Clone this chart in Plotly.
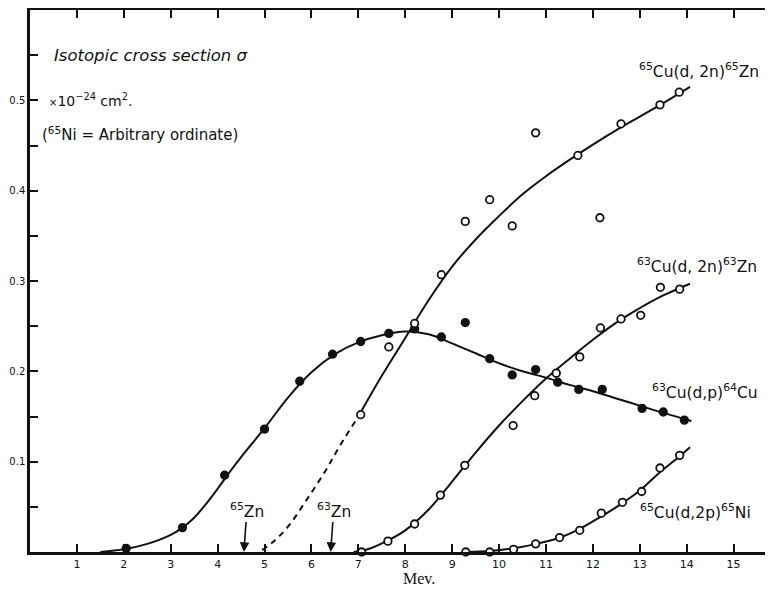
import plotly.graph_objects as go

# ---------------- data ----------------
# 63Cu(d,p)64Cu  (filled circles)
dp_x = [2.05, 3.25, 4.15, 5.0, 5.75, 6.45, 7.05, 7.65, 8.2, 8.77, 9.28, 9.8, 10.28, 10.78, 11.25, 11.7, 12.2, 13.05, 13.5, 13.95]
dp_y = [0.004, 0.027, 0.085, 0.136, 0.189, 0.219, 0.233, 0.242, 0.247, 0.238, 0.254, 0.214, 0.196, 0.202, 0.188, 0.18, 0.18, 0.159, 0.155, 0.146]
dp_curve_x = [1.5, 2.0, 2.5, 3.0, 3.25, 3.5, 3.75, 4.0, 4.25, 4.5, 5.0, 5.5, 6.0, 6.5, 7.0, 7.5, 8.0, 8.5, 9.0, 9.5, 10.0, 10.5, 11.0, 11.5, 12.0, 12.5, 13.0, 13.5, 14.1]
dp_curve_y = [0.0, 0.003, 0.009, 0.019, 0.027, 0.038, 0.053, 0.070, 0.088, 0.105, 0.137, 0.171, 0.199, 0.219, 0.232, 0.240, 0.244, 0.241, 0.231, 0.220, 0.209, 0.200, 0.193, 0.185, 0.178, 0.170, 0.162, 0.154, 0.145]

# 65Cu(d,2n)65Zn  (open circles)
zn65_x = [7.05, 7.65, 8.2, 8.77, 9.28, 9.8, 10.28, 10.78, 11.68, 12.15, 12.6, 13.43, 13.84]
zn65_y = [0.152, 0.227, 0.253, 0.307, 0.366, 0.39, 0.361, 0.464, 0.439, 0.37, 0.474, 0.495, 0.509]
zn65_dash_x = [4.95, 5.2, 5.5, 5.9, 6.3, 6.6, 7.0]
zn65_dash_y = [0.002, 0.012, 0.028, 0.058, 0.090, 0.117, 0.150]
zn65_curve_x = [7.0, 7.5, 8.0, 8.5, 9.0, 9.5, 10.0, 10.5, 11.0, 11.5, 12.0, 12.5, 13.0, 13.5, 14.07]
zn65_curve_y = [0.150, 0.195, 0.237, 0.279, 0.316, 0.346, 0.372, 0.396, 0.416, 0.434, 0.451, 0.467, 0.482, 0.497, 0.515]

# 63Cu(d,2n)63Zn  (open circles)
zn63_x = [7.07, 7.63, 8.2, 8.75, 9.27, 10.3, 10.76, 11.22, 11.72, 12.16, 12.6, 13.02, 13.44, 13.85]
zn63_y = [0.0, 0.012, 0.031, 0.063, 0.096, 0.140, 0.173, 0.198, 0.216, 0.248, 0.258, 0.262, 0.293, 0.291]
zn63_curve_x = [6.9, 7.2, 7.6, 8.0, 8.5, 9.0, 9.5, 10.0, 10.5, 11.0, 11.5, 12.0, 12.5, 13.0, 13.5, 14.07]
zn63_curve_y = [0.0, 0.003, 0.012, 0.024, 0.047, 0.078, 0.110, 0.140, 0.167, 0.192, 0.214, 0.235, 0.254, 0.270, 0.284, 0.297]

# 65Cu(d,2p)65Ni  (open circles, arbitrary ordinate)
ni65_x = [9.29, 9.8, 10.31, 10.78, 11.29, 11.72, 12.18, 12.63, 13.04, 13.43, 13.85]
ni65_y = [0.0, 0.0, 0.003, 0.009, 0.016, 0.024, 0.043, 0.055, 0.067, 0.093, 0.107]
ni65_curve_x = [9.3, 9.8, 10.3, 10.8, 11.3, 11.7, 12.2, 12.6, 13.0, 13.4, 13.85, 14.07]
ni65_curve_y = [0.0, 0.001, 0.004, 0.009, 0.016, 0.025, 0.040, 0.053, 0.068, 0.087, 0.106, 0.116]

x_ticks = list(range(1, 16))
y_ticks = [0.1, 0.2, 0.3, 0.4, 0.5]
y_tick_text = ["0.1", "0.2", "0.3", "0.4", "0.5"]

# thresholds (arrows)
thr_x = [4.56, 6.41]
thr_labels = ["<sup>65</sup>Zn", "<sup>63</sup>Zn"]

# ---------------- figure ----------------
BLACK = "#111111"
fig = go.Figure()

def curve(x, y, dash="solid", yaxis="y"):
    fig.add_trace(go.Scatter(x=x, y=y, mode="lines", yaxis=yaxis,
                             line=dict(color=BLACK, width=2, dash=dash, shape="spline", smoothing=1.0),
                             hoverinfo="skip", showlegend=False))

def points(x, y, filled, yaxis="y"):
    fig.add_trace(go.Scatter(x=x, y=y, mode="markers", yaxis=yaxis, cliponaxis=False,
                             marker=dict(symbol="circle", size=7.5,
                                         color=BLACK if filled else "white",
                                         line=dict(color=BLACK, width=1.8)),
                             showlegend=False))

curve(dp_curve_x, dp_curve_y)
curve(zn65_dash_x, zn65_dash_y, dash="6px,5px")
curve(zn65_curve_x, zn65_curve_y)
curve(zn63_curve_x, zn63_curve_y)
curve(ni65_curve_x, ni65_curve_y, yaxis="y2")

points(dp_x, dp_y, True)
points(zn65_x, zn65_y, False)
points(zn63_x, zn63_y, False)
points(ni65_x, ni65_y, False, yaxis="y2")

label_font = dict(family="DejaVu Sans", size=15.5, color=BLACK)
ann = []
ann.append(dict(x=0.46, y=0.55, xref="x", yref="y", xanchor="left", yanchor="middle", showarrow=False,
                text="<i>Isotopic cross section σ</i>", font=dict(family="DejaVu Sans", size=16.5, color=BLACK)))
ann.append(dict(x=0.36, y=0.5, xref="x", yref="y", xanchor="left", yanchor="middle", showarrow=False,
                text="<span style='font-size:10px'>×</span>10<sup>−24</sup> cm<sup>2</sup>.",
                font=dict(family="DejaVu Sans", size=14, color=BLACK)))
ann.append(dict(x=0.21, y=0.463, xref="x", yref="y", xanchor="left", yanchor="middle", showarrow=False,
                text="(<sup>65</sup>Ni = Arbitrary ordinate)", font=dict(family="DejaVu Sans", size=15, color=BLACK)))
ann.append(dict(x=12.94, y=0.533, xref="x", yref="y", xanchor="left", yanchor="middle", showarrow=False,
                text="<sup>65</sup>Cu(d, 2n)<sup>65</sup>Zn", font=label_font))
ann.append(dict(x=12.9, y=0.317, xref="x", yref="y", xanchor="left", yanchor="middle", showarrow=False,
                text="<sup>63</sup>Cu(d, 2n)<sup>63</sup>Zn", font=label_font))
ann.append(dict(x=13.21, y=0.178, xref="x", yref="y", xanchor="left", yanchor="middle", showarrow=False,
                text="<sup>63</sup>Cu(d,p)<sup>64</sup>Cu", font=label_font))
ann.append(dict(x=12.96, y=0.045, xref="x", yref="y", xanchor="left", yanchor="middle", showarrow=False,
                text="<sup>65</sup>Cu(d,2p)<sup>65</sup>Ni", font=label_font))
for tx, tl in zip(thr_x, thr_labels):
    ann.append(dict(x=tx, y=0, xref="x", yref="y", ax=3, ay=-42, showarrow=True,
                    arrowhead=2, arrowsize=1.2, arrowwidth=1.6, arrowcolor=BLACK,
                    text=tl, font=dict(family="DejaVu Sans", size=15.5, color=BLACK)))
ann.append(dict(x=8.3, y=-0.049, xref="x", yref="paper", xanchor="center", yanchor="middle", showarrow=False,
                text="Mev.", font=dict(family="Liberation Serif", size=16, color=BLACK)))

fig.update_layout(
    width=765, height=582,
    margin=dict(l=22, r=0, t=2, b=38, autoexpand=False),
    plot_bgcolor="white", paper_bgcolor="white",
    showlegend=False,
    annotations=ann,
    xaxis=dict(range=[0, 15.84], tickvals=x_ticks, ticktext=[str(v) for v in x_ticks],
               ticks="inside", ticklen=8, tickwidth=1.8, tickcolor=BLACK,
               showline=True, linewidth=2.5, linecolor=BLACK, mirror="ticks",
               showgrid=False, zeroline=False, automargin=False,
               tickfont=dict(family="DejaVu Sans", size=11, color=BLACK)),
    yaxis=dict(range=[0, 0.6], tickvals=y_ticks, ticktext=y_tick_text,
               ticks="inside", ticklen=8, tickwidth=1.8, tickcolor=BLACK,
               minor=dict(dtick=0.05, tick0=0, ticks="inside", ticklen=8, tickwidth=1.8, tickcolor=BLACK, showgrid=False),
               showline=True, linewidth=2.5, linecolor=BLACK,
               showgrid=False, zeroline=False, automargin=False,
               tickfont=dict(family="DejaVu Sans", size=10, color=BLACK)),
    yaxis2=dict(overlaying="y", side="right", matches="y", showline=False,
                tickvals=[0.05 * i for i in range(1, 12)], showticklabels=False,
                ticks="inside", ticklen=7, tickwidth=1.8, tickcolor=BLACK,
                showgrid=False, zeroline=False, automargin=False),
)

fig.write_html("out.html")
